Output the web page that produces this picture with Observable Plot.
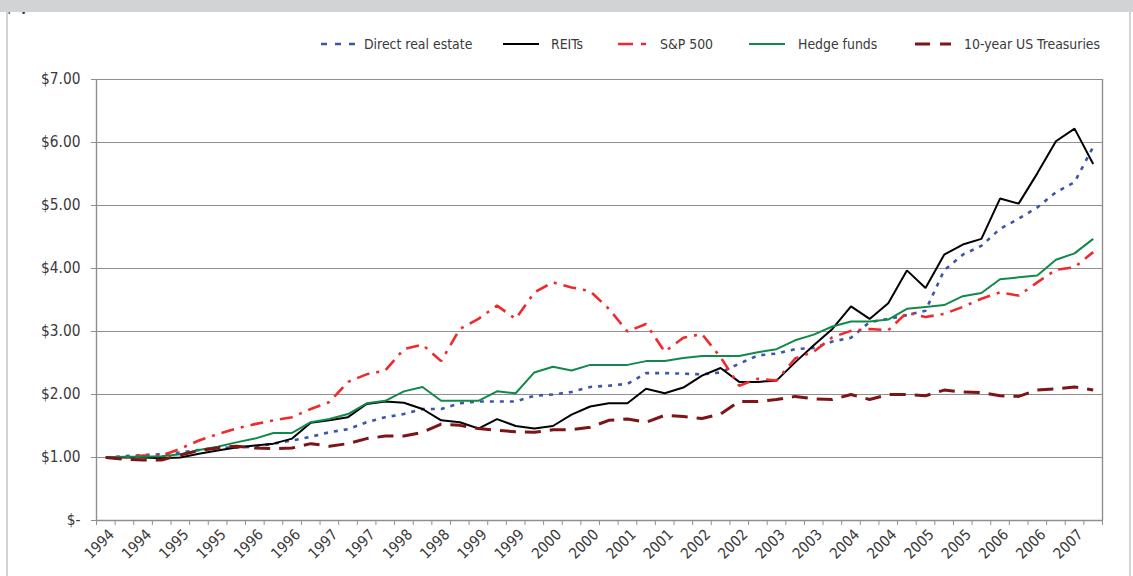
<!DOCTYPE html>
<html>
<head>
<meta charset="utf-8">
<script src="https://cdn.jsdelivr.net/npm/d3@7"></script>
<script src="https://cdn.jsdelivr.net/npm/@observablehq/plot@0.6"></script>
<style>
  body { margin: 0; background: #fff; }
  #wrap { position: relative; width: 1133px; height: 576px; overflow: hidden; }
  #chart, #legend { position: absolute; left: 0; top: 0; }
  .deco { position: absolute; background: #d1d3d4; }
</style>
</head>
<body>
<div id="wrap">
  <div id="chart"></div>
  <div class="deco" style="left:0;top:0;width:1133px;height:12px;"></div>
  <div class="deco" style="left:6px;top:12px;width:2px;height:564px;"></div>
  <div class="deco" style="left:1129px;top:12px;width:2px;height:564px;"></div>
  <svg id="legend" width="1133" height="70"></svg>
</div>
<script>
// ---- data (quarterly growth of $1, index 0..53) ----
const seriesNames = ["Direct real estate", "REITs", "S&P 500", "Hedge funds", "10-year US Treasuries"];

const tickLabels = ["1994","1994","1995","1995","1996","1996","1997","1997","1998","1998",
  "1999","1999","2000","2000","2001","2001","2002","2002","2003","2003",
  "2004","2004","2005","2005","2006","2006","2007"];

const yTicks = [0, 1, 2, 3, 4, 5, 6, 7];

const directRealEstate = [1.00,1.02,1.04,1.05,1.08,1.12,1.15,1.16,1.17,1.22,
  1.27,1.33,1.40,1.45,1.56,1.64,1.69,1.77,1.77,1.86,
  1.89,1.89,1.89,1.98,2.00,2.04,2.12,2.14,2.17,2.34,
  2.34,2.33,2.32,2.35,2.49,2.62,2.65,2.72,2.74,2.84,
  2.90,3.15,3.20,3.26,3.33,3.97,4.22,4.36,4.63,4.79,
  4.97,5.21,5.37,5.93];

const reits = [1.00,1.00,1.00,0.99,1.00,1.06,1.11,1.16,1.19,1.22,
  1.30,1.55,1.59,1.64,1.85,1.89,1.87,1.77,1.59,1.56,
  1.46,1.61,1.50,1.46,1.50,1.68,1.81,1.86,1.86,2.09,
  2.02,2.11,2.30,2.42,2.20,2.20,2.22,2.51,2.78,3.04,
  3.40,3.20,3.45,3.97,3.69,4.22,4.38,4.47,5.11,5.03,
  5.51,6.02,6.22,5.66];

const sp500 = [1.00,1.00,1.03,1.03,1.14,1.27,1.37,1.46,1.53,1.59,
  1.64,1.77,1.88,2.20,2.32,2.38,2.72,2.79,2.53,3.04,
  3.20,3.41,3.20,3.62,3.78,3.70,3.64,3.36,3.00,3.12,
  2.68,2.90,2.96,2.59,2.14,2.25,2.22,2.57,2.68,2.91,
  3.01,3.04,3.02,3.30,3.23,3.28,3.39,3.52,3.62,3.57,
  3.78,3.98,4.02,4.26];

const hedgeFunds = [1.00,1.01,1.01,1.02,1.05,1.12,1.17,1.24,1.30,1.39,
  1.39,1.56,1.61,1.69,1.86,1.90,2.05,2.12,1.90,1.90,
  1.90,2.05,2.02,2.35,2.44,2.38,2.47,2.47,2.47,2.53,
  2.53,2.58,2.61,2.61,2.61,2.67,2.72,2.86,2.95,3.08,
  3.16,3.16,3.19,3.36,3.39,3.42,3.56,3.61,3.83,3.86,
  3.89,4.14,4.24,4.47];

const treasuries = [1.00,0.97,0.96,0.96,1.04,1.11,1.15,1.18,1.15,1.14,
  1.15,1.22,1.18,1.22,1.30,1.34,1.34,1.40,1.53,1.51,
  1.46,1.43,1.41,1.40,1.44,1.44,1.48,1.59,1.61,1.56,
  1.67,1.65,1.62,1.69,1.89,1.89,1.92,1.97,1.93,1.92,
  2.00,1.92,2.00,2.00,1.98,2.07,2.04,2.03,1.98,1.97,
  2.07,2.09,2.12,2.07];

// ---- styles ----
const styles = {
  "Direct real estate":    {stroke: "#3b57a7", width: 2.6, dash: "4,6",        legendDash: "6,8"},
  "REITs":                 {stroke: "#000000", width: 2,   dash: null,         legendDash: null},
  "S&P 500":               {stroke: "#ee2a2e", width: 2.6, dash: "13,7,3,7",   legendDash: "15,8,5,8"},
  "Hedge funds":           {stroke: "#12894a", width: 2,   dash: null,         legendDash: null},
  "10-year US Treasuries": {stroke: "#7d1517", width: 3,   dash: "16,9",       legendDash: "15,10"}
};

// pick a condensed face if available (reference uses a condensed sans)
function hasFont(name) {
  const c = document.createElement("canvas").getContext("2d");
  const s = "Direct real estate 1994 $7.00";
  c.font = "20px monospace"; const a = c.measureText(s).width;
  c.font = `20px "${name}", monospace`; const b = c.measureText(s).width;
  return Math.abs(a - b) > 0.5;
}
const cond = hasFont("DejaVu Sans Condensed");
const font = cond ? "'DejaVu Sans Condensed', 'Liberation Sans', Arial, sans-serif" : "'Liberation Sans', Arial, sans-serif";
const fsY = cond ? 15.3 : 14.8;
const fsX = cond ? 15 : 14.8;
const fsLegend = cond ? 13.9 : 13.8;

const valuesBySeries = [directRealEstate, reits, sp500, hedgeFunds, treasuries];
const n = directRealEstate.length;
const rows = [];
seriesNames.forEach((name, s) => valuesBySeries[s].forEach((v, i) => rows.push({name, i, v})));

const boundaries = d3.range(n + 1).map(k => k - 0.5);
const labelRows = tickLabels.map((label, k) => ({pos: 2 * k + 0.5, label}));

const gray = "#8f8f8f";
const textColor = "#3a3a3a";

const lineMarks = seriesNames.map(name => Plot.line(rows.filter(d => d.name === name), {
  x: "i", y: "v",
  stroke: styles[name].stroke,
  strokeWidth: styles[name].width,
  strokeDasharray: styles[name].dash,
  strokeLinejoin: "miter",
  strokeLinecap: "butt"
}));

const chart = Plot.plot({
  width: 1133,
  height: 576,
  marginLeft: 96,
  marginRight: 31,
  marginTop: 79,
  marginBottom: 56,
  style: {background: "transparent", fontFamily: font, color: textColor},
  x: {domain: [-0.5, n - 0.5], axis: null},
  y: {domain: [0, 7], axis: null},
  marks: [
    Plot.gridY(yTicks.filter(t => t > 0), {stroke: gray, strokeOpacity: 1, strokeWidth: 1.2}),
    Plot.ruleX([-0.5], {stroke: gray, strokeWidth: 1.4}),
    Plot.ruleX([n - 0.5], {stroke: gray, strokeWidth: 1.4}),
    Plot.ruleY([0], {stroke: gray, strokeWidth: 1.4}),
    Plot.axisY({ticks: yTicks, tickSize: 5, tickPadding: 11, stroke: gray, fill: textColor, fontSize: fsY,
      tickFormat: d => d === 0 ? "$-" : "$" + d.toFixed(2)}),
    Plot.axisX({ticks: boundaries, tickSize: 5, stroke: gray, tickFormat: () => ""}),
    Plot.text(labelRows, {x: "pos", text: "label", frameAnchor: "bottom", rotate: -45,
      textAnchor: "end", dy: 15, fontSize: fsX, fill: textColor}),
    ...lineMarks
  ]
});
document.getElementById("chart").appendChild(chart);

// ---- legend ----
const legendLayout = [
  {sample: 321, text: 364},
  {sample: 503, text: 551},
  {sample: 618, text: 660},
  {sample: 749, text: 798},
  {sample: 915, text: 964}
];
const legendY = 44;
const lg = d3.select("#legend");
seriesNames.forEach((name, k) => {
  const st = styles[name], L = legendLayout[k];
  lg.append("line")
    .attr("x1", L.sample).attr("x2", L.sample + 36)
    .attr("y1", legendY).attr("y2", legendY)
    .attr("stroke", st.stroke).attr("stroke-width", st.width)
    .attr("stroke-dasharray", st.legendDash);
  lg.append("text")
    .attr("x", L.text).attr("y", legendY).attr("dy", "0.35em")
    .attr("font-family", font).attr("font-size", fsLegend).attr("fill", textColor)
    .text(name);
});
</script>
</body>
</html>
